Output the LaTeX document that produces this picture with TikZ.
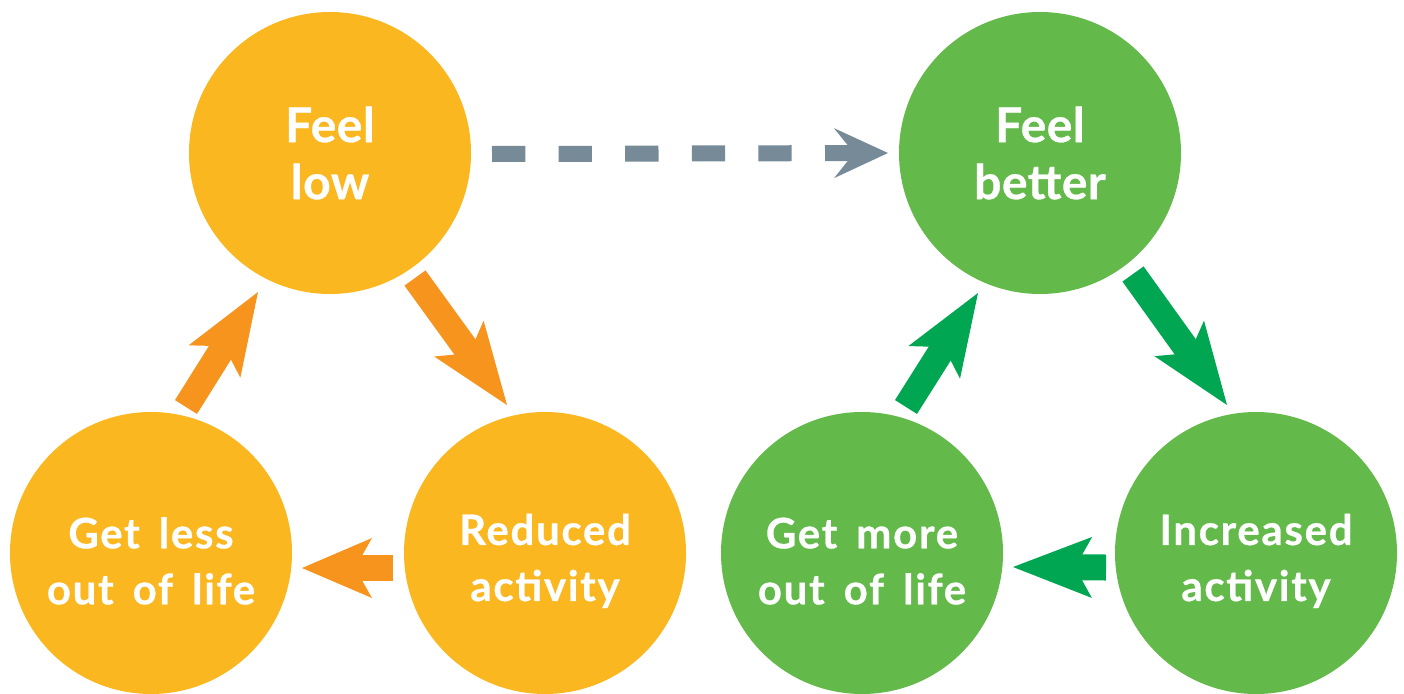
\documentclass[tikz,border=0pt]{standalone}
\usepackage{fontspec}
\setmainfont{Lato}[BoldFeatures={FakeBold=0.6}]
\newfontfamily\bigfam{Lato}[LetterSpace=1,BoldFeatures={FakeBold=0.6}]
\newfontfamily\smallfam{Lato}[LetterSpace=4,WordSpace=1.6,BoldFeatures={FakeBold=0.6}]
\usetikzlibrary{arrows.meta,calc}
\definecolor{circO}{HTML}{FBB71F}
\definecolor{circG}{HTML}{63B94A}
\definecolor{arrO}{HTML}{F7941E}
\definecolor{arrG}{HTML}{00A651}
\definecolor{arrD}{HTML}{778A98}
\newcommand{\downpad}{\rule{0pt}{47pt}}
\begin{document}
\begin{tikzpicture}[x=1pt,y=-1pt,
  bubble/.style={circle,minimum size=282pt,inner sep=0pt,text=white,align=center},
  bigtxt/.style={font=\bigfam\fontsize{48}{57}\selectfont\bfseries},
  smalltxt/.style={font=\smallfam\fontsize{42}{56}\selectfont\bfseries},
  fatarrow/.style={line width=26pt},
  diaghead/.style={-{Stealth[length=82pt,width=61pt,inset=18pt,line width=0pt]}},
  orangehead/.style={-{Stealth[length=70pt,width=60pt,inset=17pt,line width=0pt]}},
  greenhead/.style={-{Stealth[length=79pt,width=61pt,inset=17pt,line width=0pt]}},
  dasharrow/.style={draw=arrD,line width=16pt,dash pattern=on 33.3pt off 33.3pt,
    -{Stealth[length=54pt,width=50pt,inset=20pt,line width=0pt]}},
]
\useasboundingbox (0,0) rectangle (1404,693);
\node[bubble,fill=circO,bigtxt] (fl) at (330,153) {Feel\\low};
\node[bubble,fill=circO,smalltxt] (ra) at (545,553) {\downpad Reduced\\activity};
\node[bubble,fill=circO,smalltxt] (gl) at (151,553) {\downpad Get less\\out of life};
\node[bubble,fill=circG,bigtxt] (fb) at (1040,153) {Feel\\better};
\node[bubble,fill=circG,smalltxt] (gm) at (862,553) {\downpad Get more\\out of life};
\node[bubble,fill=circG,smalltxt] (ia) at (1256,553) {\downpad Increased\\activity};

\draw[fatarrow,draw=arrO,diaghead] ($(fl)+(85,125)$) -- ($(ra)+(-38,-148)$);
\draw[fatarrow,draw=arrO,diaghead] ($(gl)+(35,-146)$) -- ($(fl)+(-72,139)$);
\draw[fatarrow,draw=arrO,orangehead] ($(ra)+(-152,15)$) -- ($(gl)+(151,15)$);
\draw[dasharrow] ($(fl)+(162,1)$) -- ($(fb)+(-152,0)$);
\draw[fatarrow,draw=arrG,diaghead] ($(fb)+(93,121)$) -- ($(ia)+(-29,-148)$);
\draw[fatarrow,draw=arrG,greenhead] ($(ia)+(-150,14.5)$) -- ($(gm)+(151,14)$);
\draw[fatarrow,draw=arrG,diaghead] ($(gm)+(44,-146)$) -- ($(fb)+(-62,140)$);
\end{tikzpicture}
\end{document}
